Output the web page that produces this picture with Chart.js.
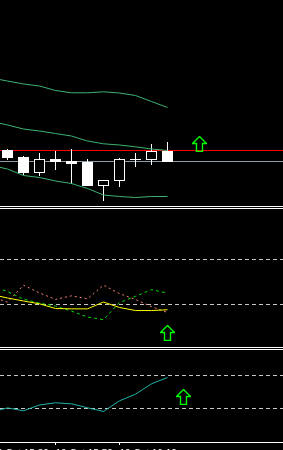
<!DOCTYPE html>
<html>
<head>
<meta charset="utf-8">
<script src="https://cdn.jsdelivr.net/npm/chart.js@4.4.1/dist/chart.umd.min.js"></script>
<style>
  html, body { margin: 0; padding: 0; background: #000; }
  body { width: 283px; height: 450px; overflow: hidden; position: relative; }
  canvas, .sep { position: absolute; left: 0; }
  .sep { width: 283px; height: 1px; background: #fff; }
</style>
</head>
<body>
<canvas id="priceChart" width="283" height="206" style="top:0"></canvas>
<div class="sep" style="top:206px"></div>
<div class="sep" style="top:208px"></div>
<canvas id="oscChart" width="283" height="138" style="top:209px"></canvas>
<div class="sep" style="top:347px"></div>
<div class="sep" style="top:349px"></div>
<canvas id="momChart" width="283" height="113" style="top:350px"></canvas>
<script>
// bar positions, bar 0 sits just off the left edge (M5 bars, 15:30 ... 16:25)
const bars = [0, 1, 2, 3, 4, 5, 6, 7, 8, 9, 10, 11];

// candles (bar 0 not visible)
const opens  = [null, 1.36011, 1.36004, 1.35988, 1.36002, 1.36000, 1.35999, 1.35975, 1.35980, 1.36001, 1.36001, 1.36010];
const closes = [null, 1.36003, 1.35988, 1.36002, 1.35999, 1.35997, 1.35975, 1.35981, 1.36002, 1.36002, 1.36010, 1.35999];
const highs  = [null, 1.36012, 1.36005, 1.36008, 1.36010, 1.36012, 1.36002, 1.35981, 1.36003, 1.36008, 1.36017, 1.36019];
const lows   = [null, 1.36001, 1.35986, 1.35985, 1.35991, 1.35977, 1.35975, 1.35960, 1.35974, 1.35994, 1.35996, 1.35999];

// bands on the price window
const bandUpper  = [1.36083, 1.36080, 1.36077, 1.36075, 1.360705, 1.360682, 1.360682, 1.360692, 1.36068, 1.360655, 1.360595, 1.360535];
const bandMiddle = [1.360395, 1.36036, 1.36032, 1.36030, 1.360275, 1.36025, 1.36020, 1.360172, 1.36016, 1.360142, 1.36012, 1.360105];
const bandLower  = [1.359955, 1.35992, 1.359855, 1.359835, 1.35980, 1.359775, 1.359725, 1.35966, 1.359645, 1.359635, 1.359645, 1.359645];

// horizontal price lines
const redLevel = 1.36011;
const bidLevel = 1.36000;

// oscillator window
const oscMain   = [38.8, 35.7, 33.0, 30.5, 26.3, 26.0, 26.0, 32.1, 27.2, 24.5, 24.5, 25.2];
const oscRed    = [36.9, 32.0, 47.1, 40.2, 34.4, 37.6, 34.9, 47.1, 39.6, 34.3, 28.0, 22.7];
const oscGreen  = [46.7, 41.4, 34.7, 31.1, 28.5, 24.0, 18.7, 16.4, 31.6, 37.2, 43.1, 40.0];
const oscLevels = [70, 30];

// lower window
const momLine   = [-120.4, -96.1, -113.7, -78.5, -65.2, -71.3, -95.5, -118, -53.1, -13, 50, 88.2];
const momLevels = [100, -100];

// signal arrows
const priceArrow = [{x: 13, y: 1.36017}];
const oscArrow   = [{x: 11, y: 4.48}];
const momArrow   = [{x: 12, y: -30}];

// time axis
const timeTicks  = [0, 4, 8];
const timeLabels = ['10 Oct 15:30', '10 Oct 15:50', '10 Oct 16:10'];

const X_MIN = 0.53125;
const X_MAX = 18.21875;

Chart.defaults.font.family = '"Liberation Sans", sans-serif';

const pts = vals => bars.map((b, i) => ({x: b, y: vals[i]}));

// green up arrow used as point style
const arrowImg = document.createElement('canvas');
arrowImg.width = 15;
arrowImg.height = 16;
(function () {
    const c = arrowImg.getContext('2d');
    c.strokeStyle = '#00ff00';
    c.lineWidth = 1.4;
    c.beginPath();
    c.moveTo(7.5, 0.5);
    c.lineTo(14.5, 7.5);
    c.lineTo(10.5, 7.5);
    c.lineTo(10.5, 15.5);
    c.lineTo(4.5, 15.5);
    c.lineTo(4.5, 7.5);
    c.lineTo(0.5, 7.5);
    c.closePath();
    c.stroke();
})();

// horizontal lines drawn under the datasets
function levelPlugin(lines) {
    return {
        id: 'levels',
        beforeDatasetsDraw(chart) {
            const {ctx, chartArea, scales} = chart;
            ctx.save();
            ctx.lineWidth = 1;
            lines.forEach(l => {
                const py = Math.floor(scales.y.getPixelForValue(l.value) + 1e-6) + 0.5;
                ctx.strokeStyle = l.color;
                ctx.setLineDash(l.dash || []);
                ctx.beginPath();
                ctx.moveTo(chartArea.left, py);
                ctx.lineTo(chartArea.right, py);
                ctx.stroke();
            });
            ctx.restore();
        }
    };
}

function baseOptions(yMin, yMax) {
    return {
        responsive: false,
        animation: false,
        devicePixelRatio: 1,
        events: [],
        layout: {padding: 0, autoPadding: false},
        plugins: {legend: {display: false}, tooltip: {enabled: false}},
        scales: {
            x: {type: 'linear', min: X_MIN, max: X_MAX, offset: false, display: false},
            y: {type: 'linear', min: yMin, max: yMax, display: false}
        }
    };
}

const lineDs = (data, color, order, dash) => ({
    type: 'line', data: data, borderColor: color, borderWidth: 1,
    borderDash: dash || [], pointRadius: 0, tension: 0, fill: false, order: order
});
const arrowDs = data => ({
    type: 'line', data: data, showLine: false, pointStyle: arrowImg,
    pointRadius: 8, order: 0
});

// price window
const candleIdx = bars.filter(i => opens[i] !== null);
const bodies = candleIdx.map(i => ({x: i, y: [opens[i], closes[i]]}));
const wicks  = candleIdx.map(i => ({x: i, y: [lows[i], highs[i]]}));

new Chart(document.getElementById('priceChart'), {
    type: 'line',
    data: {
        datasets: [
            lineDs(pts(bandUpper), '#3cb371', 0),
            lineDs(pts(bandMiddle), '#3cb371', 0),
            lineDs(pts(bandLower), '#3cb371', 0),
            arrowDs(priceArrow),
            {
                type: 'bar', data: bodies, order: 1, grouped: false, barThickness: 11,
                borderWidth: 1, borderColor: '#fff', borderSkipped: false, inflateAmount: 0,
                backgroundColor: ctx => {
                    const b = bodies[ctx.dataIndex];
                    return b && b.y[1] < b.y[0] ? '#fff' : '#000';
                }
            },
            {
                type: 'bar', data: wicks, order: 2, grouped: false, barThickness: 1,
                borderWidth: 0, inflateAmount: 0, backgroundColor: '#fff'
            }
        ]
    },
    options: baseOptions(1.35955, 1.36161),
    plugins: [levelPlugin([
        {value: redLevel, color: '#ff0000'},
        {value: bidLevel, color: '#8f9aa8'}
    ])]
});

// oscillator window
new Chart(document.getElementById('oscChart'), {
    type: 'line',
    data: {
        datasets: [
            lineDs(pts(oscMain), '#ffff00', 0),
            lineDs(pts(oscRed), '#fa8072', 1, [2, 3]),
            lineDs(pts(oscGreen), '#00dd00', 2, [3, 3]),
            arrowDs(oscArrow)
        ]
    },
    options: baseOptions(-8, 115),
    plugins: [levelPlugin(oscLevels.map(v => ({value: v, color: '#c8c8c8', dash: [4, 3]})))]
});

// lower window with time axis (labels run past the bottom edge)
const momOptions = baseOptions(-303, 255);
momOptions.scales.x = {
    type: 'linear', min: X_MIN, max: X_MAX, offset: false, display: true,
    afterBuildTicks: s => { s.ticks = timeTicks.map(v => ({value: v})); },
    afterFit: s => { s.paddingLeft = 0; s.paddingRight = 0; },
    border: {display: true, color: '#fff', width: 1},
    grid: {display: true, drawOnChartArea: false, drawTicks: true, tickLength: 3, color: '#fff', offset: false},
    ticks: {
        autoSkip: false, maxRotation: 0, minRotation: 0, align: 'start', padding: 3,
        color: '#fff', font: {size: 10},
        callback: (v, i) => timeLabels[i]
    }
};

new Chart(document.getElementById('momChart'), {
    type: 'line',
    data: {
        datasets: [
            lineDs(pts(momLine), '#20b2aa', 0),
            arrowDs(momArrow)
        ]
    },
    options: momOptions,
    plugins: [levelPlugin(momLevels.map(v => ({value: v, color: '#c8c8c8', dash: [4, 3]})))]
});
</script>
</body>
</html>
